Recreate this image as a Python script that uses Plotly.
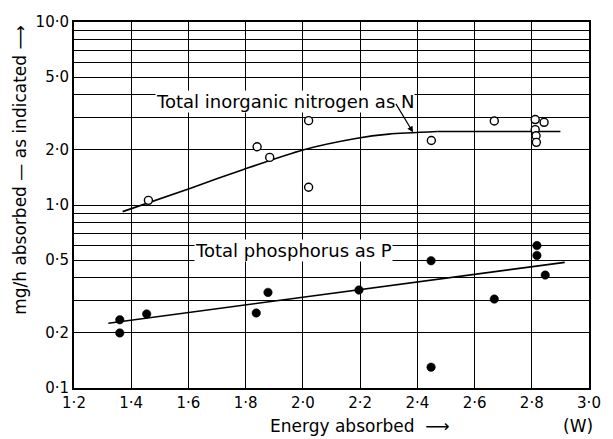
import plotly.graph_objects as go

# Data
n_x = [1.46, 1.84, 1.884, 2.02, 2.02, 2.449, 2.669, 2.812, 2.843, 2.812, 2.815, 2.816]
n_y = [1.06, 2.08, 1.82, 2.89, 1.25, 2.25, 2.88, 2.93, 2.83, 2.58, 2.39, 2.20]

p_x = [1.36, 1.36, 1.454, 1.837, 1.878, 2.196, 2.448, 2.448, 2.669, 2.818, 2.818, 2.847]
p_y = [0.236, 0.20, 0.254, 0.257, 0.333, 0.343, 0.496, 0.130, 0.306, 0.60, 0.53, 0.414]

n_curve_x = [1.37, 1.61, 1.79, 2.0, 2.185, 2.30, 2.47]
n_curve_y = [0.92, 1.24, 1.56, 2.0, 2.31, 2.44, 2.52]
n_flat_x = [2.47, 2.9]
n_flat_y = [2.52, 2.52]

p_line_x = [1.32, 2.915]
p_line_y = [0.226, 0.486]

x_ticks = [1.2, 1.4, 1.6, 1.8, 2.0, 2.2, 2.4, 2.6, 2.8, 3.0]
x_labels = ["1·2", "1·4", "1·6", "1·8", "2·0", "2·2", "2·4", "2·6", "2·8", "3·0"]

y_grid = [0.1, 0.2, 0.3, 0.4, 0.5, 0.6, 0.7, 0.8, 0.9,
          1, 2, 3, 4, 5, 6, 7, 8, 9, 10]
y_labelled = {0.1: "0·1", 0.2: "0·2", 0.5: "0·5", 1: "1·0", 2: "2·0", 5: "5·0", 10: "10·0"}
y_labels = [y_labelled.get(v, "") for v in y_grid]

FONT = "DejaVu Sans"

# pixel helpers for the plot area (l=74, t=22, w=523, h=366)
def px_to_x(px):
    return 1.2 + (px - 74) / 523 * 1.8

def py_to_y(py):
    return 10 ** (1 - (py - 22) / 183)

fig = go.Figure()
fig.add_trace(go.Scatter(x=n_curve_x, y=n_curve_y, mode="lines",
                         line=dict(color="black", width=1.6, shape="spline", smoothing=0.7),
                         showlegend=False, hoverinfo="skip"))
fig.add_trace(go.Scatter(x=n_flat_x, y=n_flat_y, mode="lines",
                         line=dict(color="black", width=1.6), showlegend=False, hoverinfo="skip"))
fig.add_trace(go.Scatter(x=p_line_x, y=p_line_y, mode="lines",
                         line=dict(color="black", width=1.6), showlegend=False, hoverinfo="skip"))
fig.add_trace(go.Scatter(x=n_x, y=n_y, mode="markers",
                         marker=dict(symbol="circle", size=8, color="white",
                                     line=dict(width=1.4, color="black")),
                         showlegend=False))
fig.add_trace(go.Scatter(x=p_x, y=p_y, mode="markers",
                         marker=dict(symbol="circle", size=8.5, color="black",
                                     line=dict(width=0.5, color="black")),
                         showlegend=False))

fig.update_xaxes(range=[1.2, 3.0], tickvals=x_ticks, ticktext=x_labels,
                 showgrid=True, gridcolor="black", gridwidth=1,
                 showline=True, linecolor="black", linewidth=2, mirror=True,
                 ticks="", zeroline=False,
                 tickfont=dict(family=FONT, size=15, color="black"))
fig.update_yaxes(type="log", range=[-1, 1], tickvals=y_grid, ticktext=y_labels,
                 showgrid=True, gridcolor="black", gridwidth=1,
                 showline=True, linecolor="black", linewidth=2, mirror=True,
                 ticks="", zeroline=False,
                 tickfont=dict(family=FONT, size=15, color="black"))

anns = [
    dict(x=(288 - 74) / 523, y=(388 - 101) / 366, text="Total inorganic nitrogen as N"),
    dict(x=(297 - 74) / 523, y=(388 - 251) / 366, text="Total phosphorus as P"),
]
for a in anns:
    fig.add_annotation(x=a["x"], y=a["y"], xref="paper", yref="paper", text=a["text"],
                       xanchor="center", yanchor="middle",
                       showarrow=False, bgcolor="white", borderpad=0,
                       font=dict(family=FONT, size=18, color="black"))

# arrows
fig.add_annotation(x=2.47, y=2.52, xref="x", yref="y",
                   ax=px_to_x(420), ay=py_to_y(96),
                   axref="x", ayref="y", text="", showarrow=True,
                   arrowhead=2, arrowsize=1, arrowwidth=1.2, arrowcolor="black")
fig.add_annotation(x=2.385, y=0.397, xref="x", yref="y",
                   ax=px_to_x(400), ay=py_to_y(251),
                   axref="x", ayref="y", text="", showarrow=True,
                   arrowhead=2, arrowsize=1, arrowwidth=1.2, arrowcolor="black")

# axis titles
fig.add_annotation(x=(19 - 74) / 523, y=(388 - 170) / 366, xref="paper", yref="paper",
                   text="mg/h absorbed — as indicated ⟶", textangle=-90, showarrow=False,
                   xanchor="center", yanchor="middle",
                   font=dict(family=FONT, size=17, color="black"))
fig.add_annotation(x=(364 - 74) / 523, y=(388 - 426) / 366, xref="paper", yref="paper",
                   text="Energy absorbed  ⟶", showarrow=False,
                   xanchor="center", yanchor="middle",
                   font=dict(family=FONT, size=17, color="black"))
fig.add_annotation(x=(586 - 74) / 523, y=(388 - 426) / 366, xref="paper", yref="paper",
                   text="(W)", showarrow=False,
                   xanchor="center", yanchor="middle",
                   font=dict(family=FONT, size=17, color="black"))

fig.update_layout(width=613, height=439, margin=dict(l=74, r=16, t=22, b=51),
                  paper_bgcolor="white", plot_bgcolor="white", showlegend=False)

fig.write_html("out.html")
